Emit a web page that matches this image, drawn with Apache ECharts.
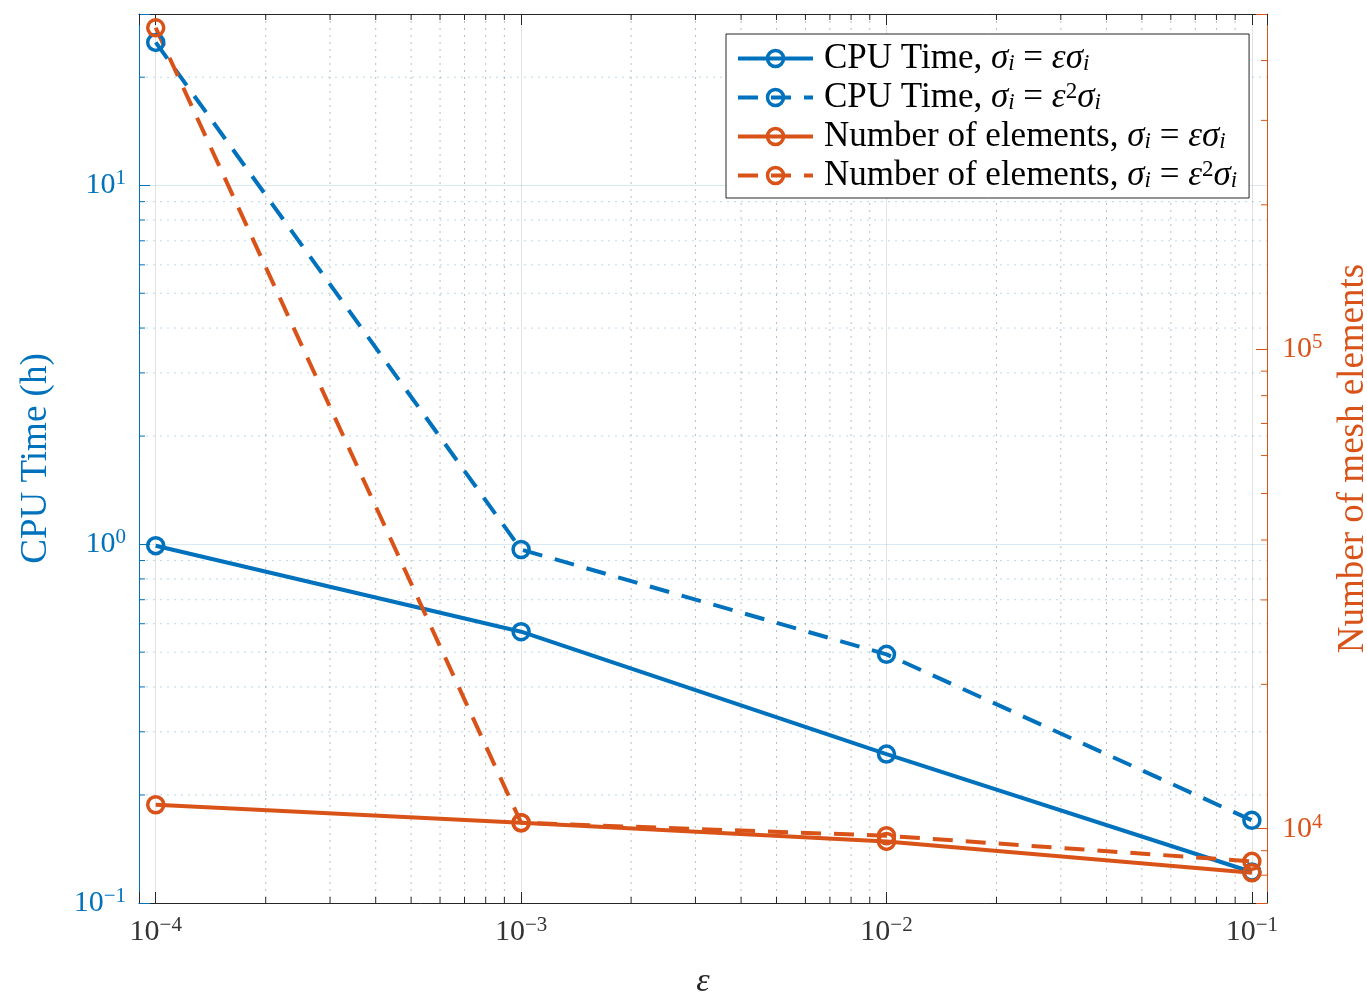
<!DOCTYPE html>
<html>
<head>
<meta charset="utf-8">
<script src="https://cdn.jsdelivr.net/npm/echarts@6/dist/echarts.min.js"></script>
<style>
html,body{margin:0;padding:0;background:#fff;}
#chart{width:1367px;height:992px;}
</style>
</head>
<body>
<div id="chart"></div>
<script>
// ---- data ----
const epsilon = [1e-4, 1e-3, 1e-2, 1e-1];
const cpuLinear = [0.99, 0.57, 0.26, 0.122];
const cpuQuad = [25.0, 0.966, 0.493, 0.170];
const elemLinear = [11220, 10290, 9410, 8090];
const elemQuad = [468000, 10290, 9670, 8550];

const seriesNames = [
  'CPU Time, σi = εσi',
  'CPU Time, σi = ε2σi',
  'Number of elements, σi = εσi',
  'Number of elements, σi = ε2σi'
];

// minor tick positions of the log axes
const xMinorTicks = [2e-4,3e-4,4e-4,5e-4,6e-4,7e-4,8e-4,9e-4,
                     2e-3,3e-3,4e-3,5e-3,6e-3,7e-3,8e-3,9e-3,
                     2e-2,3e-2,4e-2,5e-2,6e-2,7e-2,8e-2,9e-2];
const yLeftMinorTicks = [0.2,0.3,0.4,0.5,0.6,0.7,0.8,0.9,2,3,4,5,6,7,8,9,20];
const yRightMinorTicks = [8000,9000,20000,30000,40000,50000,60000,70000,80000,90000,200000,300000,400000];

const BLUE = '#0072BD';
const ORANGE = '#D95319';
const DARK = '#262626';
const FONT = "'Liberation Serif', 'DejaVu Serif', serif";

function zip(xs, ys){ return xs.map((x,i)=>[x, ys[i]]); }

function powLabel(v){
  const e = Math.log10(v);
  const r = Math.round(e);
  if (Math.abs(e - r) > 1e-6) return '';
  return '{b|10}{s|' + (r < 0 ? '\u2212' + (-r) : r) + '}';
}
function richFor(color){
  return {
    b: {fontSize: 30, lineHeight: 34, color: color, fontFamily: FONT},
    s: {fontSize: 21, lineHeight: 22, verticalAlign: 'top', color: color, fontFamily: FONT}
  };
}

const chart = echarts.init(document.getElementById('chart'), null, {renderer: 'canvas'});

function lineSeries(name, data, color, dashed, yIdx){
  return {
    name: name, type: 'line', data: data, yAxisIndex: yIdx, xAxisIndex: 0,
    symbol: 'circle', symbolSize: 16, showSymbol: true,
    lineStyle: {color: color, width: 4, type: dashed ? [20, 13] : 'solid'},
    itemStyle: {color: 'rgba(255,255,255,0)', borderColor: color, borderWidth: 3.5},
    emphasis: {disabled: true}, z: 5, silent: true, clip: false
  };
}

const option = {
  animation: false,
  backgroundColor: '#fff',
  grid: {left: 139, right: 100, top: 14, bottom: 89, containLabel: false, outerBoundsMode: 'none'},
  legend: {
    data: seriesNames,
    orient: 'vertical',
    left: 726, top: 34,
    padding: [7, 12, 5, 10],
    itemGap: 4,
    itemWidth: 75, itemHeight: 20,
    backgroundColor: '#fff',
    borderColor: DARK, borderWidth: 1, borderRadius: 0,
    selectedMode: false,
    lineStyle: {width: 4},
    itemStyle: {borderWidth: 3.5},
    formatter: function(name){
      const idx = seriesNames.indexOf(name);
      const head = idx < 2 ? 'CPU Time, ' : 'Number of elements, ';
      const tail = (idx % 2 === 0)
        ? '{it|εσ}{sub|i}'
        : '{it|ε}{sup|2}{it|σ}{sub|i}';
      return '{t|' + head + '}{it|σ}{sub|i}{t| = }' + tail;
    },
    textStyle: {
      fontFamily: FONT, fontSize: 35, color: '#000', padding: [0, 0, 0, 6],
      rich: {
        t: {fontFamily: FONT, fontSize: 35, lineHeight: 34, color: '#000'},
        it: {fontFamily: FONT, fontSize: 35, lineHeight: 34, fontStyle: 'italic', color: '#000'},
        sub: {fontFamily: FONT, fontSize: 23, lineHeight: 20, verticalAlign: 'bottom', fontStyle: 'italic', color: '#000'},
        sup: {fontFamily: FONT, fontSize: 23, lineHeight: 20, verticalAlign: 'top', color: '#000'}
      }
    }
  },
  xAxis: [
    {
      type: 'log', logBase: 10, min: 9e-5, max: 0.11, position: 'bottom',
      name: 'ε', nameLocation: 'middle', nameGap: 62,
      nameTextStyle: {fontFamily: FONT, fontSize: 34, fontStyle: 'italic', color: DARK},
      axisLine: {show: true, lineStyle: {color: DARK, width: 1}},
      axisTick: {show: true, inside: true, length: 11, lineStyle: {color: DARK}},
      minorTick: {show: false},
      axisLabel: {show: true, margin: 12, formatter: powLabel, rich: richFor('#333333'),
        showMinLabel: true, showMaxLabel: true},
      splitLine: {show: true, lineStyle: {color: 'rgba(38,38,38,0.13)', width: 1}}
    },
    {
      type: 'log', logBase: 10, min: 9e-5, max: 0.11, position: 'top',
      axisLine: {show: true, lineStyle: {color: DARK, width: 1}},
      axisTick: {show: true, inside: true, length: 11, lineStyle: {color: DARK}},
      axisLabel: {show: false},
      splitLine: {show: false}
    }
  ],
  yAxis: [
    {
      type: 'log', logBase: 10, min: 0.1, max: 30, position: 'left',
      name: 'CPU Time (h)', nameLocation: 'middle', nameGap: 84, nameRotate: 90,
      nameTextStyle: {fontFamily: FONT, fontSize: 37, color: BLUE},
      axisLine: {show: true, lineStyle: {color: BLUE, width: 1}},
      axisTick: {show: true, inside: true, length: 11, lineStyle: {color: BLUE}},
      axisLabel: {show: true, margin: 13, formatter: powLabel, rich: richFor(BLUE)},
      splitLine: {show: true, lineStyle: {color: 'rgba(0,114,189,0.15)', width: 1}}
    },
    {
      type: 'log', logBase: 10, min: 7000, max: 500000, position: 'right',
      name: 'Number of mesh elements', nameLocation: 'middle', nameGap: 68, nameRotate: 90,
      nameTextStyle: {fontFamily: FONT, fontSize: 37, color: ORANGE},
      axisLine: {show: true, lineStyle: {color: ORANGE, width: 1}},
      axisTick: {show: true, inside: true, length: 11, lineStyle: {color: ORANGE}},
      axisLabel: {show: true, margin: 15, formatter: powLabel, rich: richFor(ORANGE)},
      splitLine: {show: false}
    }
  ],
  series: [
    // minor x grid + ticks (bottom & top)
    {
      type: 'custom', name: 'xminor', xAxisIndex: 0, yAxisIndex: 0, silent: true, z: 1,
      data: xMinorTicks.map(v => [v, 1]),
      renderItem: function(params, api){
        const cs = params.coordSys;
        const x = api.coord([api.value(0), api.value(1)])[0];
        return {type: 'group', children: [
          {type: 'line', shape: {x1: x, y1: cs.y, x2: x, y2: cs.y + cs.height},
           style: {stroke: 'rgba(38,38,38,0.3)', lineWidth: 1, lineDash: [2, 5]}},
          {type: 'line', shape: {x1: x, y1: cs.y + cs.height, x2: x, y2: cs.y + cs.height - 6},
           style: {stroke: DARK, lineWidth: 1}},
          {type: 'line', shape: {x1: x, y1: cs.y, x2: x, y2: cs.y + 6},
           style: {stroke: DARK, lineWidth: 1}}
        ]};
      }
    },
    // minor left y grid + ticks
    {
      type: 'custom', name: 'ylminor', xAxisIndex: 0, yAxisIndex: 0, silent: true, z: 1,
      data: yLeftMinorTicks.map(v => [1e-3, v]),
      renderItem: function(params, api){
        const cs = params.coordSys;
        const y = api.coord([api.value(0), api.value(1)])[1];
        return {type: 'group', children: [
          {type: 'line', shape: {x1: cs.x, y1: y, x2: cs.x + cs.width, y2: y},
           style: {stroke: 'rgba(0,114,189,0.28)', lineWidth: 1, lineDash: [2, 5]}},
          {type: 'line', shape: {x1: cs.x, y1: y, x2: cs.x + 6, y2: y},
           style: {stroke: BLUE, lineWidth: 1}}
        ]};
      }
    },
    // minor right y ticks
    {
      type: 'custom', name: 'yrminor', xAxisIndex: 0, yAxisIndex: 1, silent: true, z: 1,
      data: yRightMinorTicks.map(v => [1e-3, v]),
      renderItem: function(params, api){
        const cs = params.coordSys;
        const y = api.coord([api.value(0), api.value(1)])[1];
        return {type: 'line', shape: {x1: cs.x + cs.width, y1: y, x2: cs.x + cs.width - 6, y2: y},
          style: {stroke: ORANGE, lineWidth: 1}};
      }
    },
    lineSeries(seriesNames[0], zip(epsilon, cpuLinear), BLUE, false, 0),
    lineSeries(seriesNames[1], zip(epsilon, cpuQuad), BLUE, true, 0),
    lineSeries(seriesNames[2], zip(epsilon, elemLinear), ORANGE, false, 1),
    lineSeries(seriesNames[3], zip(epsilon, elemQuad), ORANGE, true, 1)
  ]
};
chart.setOption(option);
</script>
</body>
</html>
